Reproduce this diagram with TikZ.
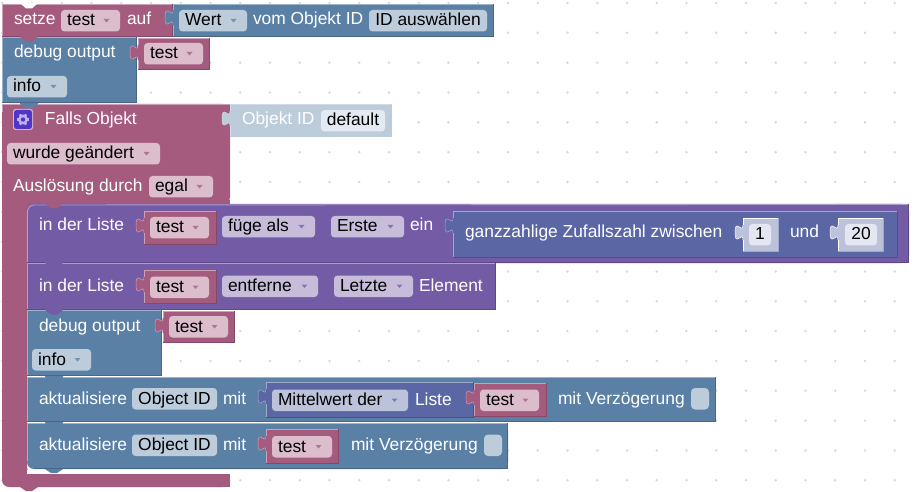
\documentclass[tikz,border=0pt]{standalone}
\usepackage{fontspec}
\setmainfont{Liberation Sans}
\definecolor{mag}{HTML}{A55B7D}\definecolor{magL}{HTML}{C9A0B6}\definecolor{magD}{HTML}{84496A}\definecolor{magF}{HTML}{DBBDCC}\definecolor{magA}{HTML}{A55B7D}
\definecolor{blu}{HTML}{5B80A5}\definecolor{bluL}{HTML}{9DB3C9}\definecolor{bluD}{HTML}{496684}\definecolor{bluF}{HTML}{BDCCDB}\definecolor{bluA}{HTML}{5B80A5}
\definecolor{pur}{HTML}{745BA5}\definecolor{purL}{HTML}{ACA0C9}\definecolor{purD}{HTML}{5D4984}\definecolor{purF}{HTML}{C7BDDB}\definecolor{purA}{HTML}{745BA5}
\definecolor{mat}{HTML}{5B67A5}\definecolor{matL}{HTML}{A0A8C9}\definecolor{matD}{HTML}{495284}\definecolor{matF}{HTML}{BDC2DB}\definecolor{matA}{HTML}{5B67A5}
\definecolor{sha}{HTML}{BDCCDB}\definecolor{shaL}{HTML}{CFDBE6}\definecolor{shaD}{HTML}{BDCCDB}\definecolor{shaF}{HTML}{E3EAF1}
\definecolor{numb}{HTML}{BDC2DB}\definecolor{numbL}{HTML}{FFFFFF}\definecolor{numbD}{HTML}{A0A8C9}\definecolor{numbF}{HTML}{E4E6F1}
\definecolor{gearbg}{HTML}{5035C8}\definecolor{gearfg}{HTML}{BFB0EE}
\newcommand{\blk}[5]{%
  \fill[#5] (#1,#2) rectangle (#3,#4);
  \draw[#5L,line width=.9pt] (#1+.4,#4) -- (#1+.4,#2+.4) -- (#3,#2+.4);
  \draw[#5D,line width=.9pt] (#3-.4,#2) -- (#3-.4,#4-.4) -- (#1,#4-.4);}
\newcommand{\puz}[3]{%
  \begin{scope}[shift={(#1,#2+5)}]
  \filldraw[fill=#3,draw=#3L,line width=.5pt] (.8,0) -- (0,0) .. controls (0,10) and (-8,-8) .. (-8,7.5) .. controls (-8,23) and (0,5) .. (0,15) -- (.8,15);
  \fill[#3] (0,.3) rectangle (1.2,14.7);
  \end{scope}}
\newcommand{\ntch}[3]{%
  \fill[#3] (#1+18,#2-1) -- (#1+18,#2) -- (#1+24,#2+4.5) -- (#1+30,#2+4.5) -- (#1+36,#2) -- (#1+36,#2-1) -- cycle;}
\newcommand{\lab}[4]{\node[lbl] (#1) at (#2,#3) {#4};}
\newcommand{\fld}[7]{%
  \fill[#6F,rounded corners=3.5pt] (#2,#4) rectangle (#3,#4+21.5);
  \node[lbl,text=black] (#1) at (#2+6,#4+16) {#5};
  \fill[#6A!85!white] (#3-16.5,#4+9) -- (#3-10.5,#4+9) -- (#3-13.5,#4+12.5) -- cycle;}
\newcommand{\fldn}[6]{%
  \fill[#6F,rounded corners=3.5pt] (#2,#4) rectangle (#3,#4+21.5);
  \node[lbl,text=black] (#1) at ({(#2+#3)/2},#4+16) [anchor=base] {#5};}
\begin{document}
\begin{tikzpicture}[x=1pt,y=-1pt,
  lbl/.style={anchor=base west,inner sep=0pt,outer sep=0pt,text=white,font=\fontsize{17.4}{19}\selectfont}]
\useasboundingbox (0,0) rectangle (914,492);
\fill[white] (0,0) rectangle (914,492);
\foreach \i in {0,...,30}{\foreach \j in {0,...,16}{
  \fill[black!15] ({2.2+\i*29.75},{3+\j*29.83}) circle (1.4pt);}}
% Top block
\blk{2}{4}{173}{37}{mag}
\fill[white] (20,3) -- (26,8.5) -- (32,8.5) -- (38,3) -- cycle;
\blk{173}{4}{494}{37}{blu}
\puz{173}{5}{blu}
\lab{a1}{14}{25}{setze}
\fld{a2}{61}{120}{10}{test}{mag}{}
\lab{a3}{127}{25}{auf}
\fld{a4}{179}{247}{10}{Wert}{blu}{}
\lab{a5}{253}{25}{vom Objekt ID}
\fldn{a6}{369}{487}{10}{ID auswählen}{blu}
% debug 1
\blk{2}{37}{137}{103}{blu}
\blk{138}{38}{210}{70}{mag}
\puz{138}{40}{mag}
\lab{b1}{14}{58}{debug output}
\fld{b2}{144}{203}{43}{test}{mag}{}
\fld{b3}{7}{67}{76}{info}{blu}{}
\ntch{2}{37}{mag}
% Falls
\fill[mag,rounded corners=7pt] (2,104) -- (230,104) -- (230,204) -- (27,204) -- (27,474) -- (230,474) -- (230,487) -- (2,487) -- cycle;
\fill[mag] (2,104) rectangle (230,140);
\fill[mag] (26,200) rectangle (230,204);\fill[mag] (26,200) rectangle (36,212);
\fill[mag] (24,470) rectangle (40,487);\fill[mag] (200,474) rectangle (230,487);
\fill[white] (27,470) rectangle (40,474);
\draw[magL,line width=.9pt] (2.4,112) -- (2.4,104.4) -- (230,104.4);
\fill[mag] (20,487) -- (26,491) -- (32,491) -- (38,487) -- cycle;
\blk{230}{104}{392}{137}{sha}
\puz{230}{106}{sha}
\ntch{2}{104}{blu}
% gear
\fill[white!55!mag,rounded corners=2.5pt] (13,109) rectangle (33,130);
\fill[gearbg,rounded corners=2.5pt] (14,110) rectangle (32,129);
\begin{scope}[shift={(23,119.5)}]
  \foreach \a in {0,60,...,300}{\draw[gearfg,line width=2.4pt] (\a:3.5) -- (\a:6);}
  \fill[gearfg] (0,0) circle (5pt);
  \fill[gearbg] (0,0) circle (2.2pt);
\end{scope}
\lab{c1}{45}{125}{Falls Objekt}
\lab{c2}{242}{125}{Objekt ID}
\fldn{c3}{321}{385}{110}{default}{sha}
\fld{c4}{7}{160}{143}{wurde geändert}{mag}{}
\lab{c5}{13}{192}{Auslösung durch}
\fld{c6}{149}{213}{176}{egal}{mag}{}
% Liste 1
\fill[pur,rounded corners=7pt] (27,263) -- (27,204) -- (909,204) -- (909,263) -- cycle;
\fill[pur] (27,255) rectangle (909,263);\fill[pur] (900,204) rectangle (909,263);
\draw[purL,line width=.9pt] (27.4,263) -- (27.4,212) arc[start angle=180,end angle=90,radius=7pt] -- (909,204.4);
\draw[purD,line width=.9pt] (908.6,204) -- (908.6,262.6) -- (27,262.6);
\fill[mag] (45,203.5) -- (51,208.5) -- (57,208.5) -- (63,203.5) -- cycle;
\lab{d1}{39}{231}{in der Liste}
\blk{144}{211}{217}{245}{mag}
\puz{144}{213}{mag}
\fld{d2}{150}{209}{217}{test}{mag}{}
\fld{d3}{222}{315}{216}{füge als}{pur}{}
\fld{d4}{331}{404}{216}{Erste}{pur}{}
\lab{d5}{410}{231}{ein}
\blk{453}{211}{898}{258}{mat}
\puz{453}{213}{mat}
\lab{d6}{465}{238}{ganzzahlige Zufallszahl zwischen}
\blk{743}{218}{779}{252}{numb}
\puz{743}{220}{numb}
\fldn{d7}{749}{771}{224}{1}{numb}
\lab{d8}{790}{238}{und}
\blk{838}{218}{884}{252}{numb}
\puz{838}{220}{numb}
\fldn{d9}{845}{877}{224}{20}{numb}
% Liste 2
\blk{27}{263}{496}{310}{pur}
\ntch{27}{263}{pur}
\lab{e1}{39}{291}{in der Liste}
\blk{144}{270}{217}{304}{mag}
\puz{144}{272}{mag}
\fld{e2}{150}{209}{276.5}{test}{mag}{}
\fld{e3}{222}{318}{275.5}{entferne}{pur}{}
\fld{e4}{334}{413}{275.5}{Letzte}{pur}{}
\lab{e5}{419}{291}{Element}
% debug 2
\blk{27}{310}{162}{376}{blu}
\ntch{27}{310}{pur}
\blk{163}{311}{235}{343}{mag}
\puz{163}{313}{mag}
\lab{f1}{39}{331}{debug output}
\fld{f2}{169}{228}{316}{test}{mag}{}
\fld{f3}{32}{91}{349}{info}{blu}{}
% aktualisiere 1
\blk{27}{377}{716}{422}{blu}
\ntch{27}{377}{blu}
\lab{g1}{39}{404}{aktualisiere}
\fldn{g2}{132}{217}{388}{Object ID}{blu}
\lab{g3}{223}{404}{mit}
\blk{266}{382}{474}{418}{mat}
\puz{266}{384}{mat}
\fld{g4}{272}{408}{389.5}{Mittelwert der}{mat}{}
\lab{g5}{415}{405}{Liste}
\blk{474}{383}{547}{417}{mag}
\puz{474}{385}{mag}
\fld{g6}{480}{539}{389.5}{test}{mag}{}
\lab{g7}{558}{404}{mit Verzögerung}
\fill[bluF,rounded corners=4pt] (691,388) rectangle (709,409.5);
% aktualisiere 2
\fill[blu,rounded corners=7pt] (27,423) -- (508,423) -- (508,469) -- (27,469) -- cycle;
\fill[blu] (27,423) rectangle (508,440);\fill[blu] (490,423) rectangle (508,469);
\draw[bluL,line width=.9pt] (27.4,461) -- (27.4,423.4) -- (508,423.4);
\draw[bluD,line width=.9pt] (507.6,423) -- (507.6,468.6) -- (35,468.6);
\ntch{27}{423}{blu}
\fill[blu] (45,469) -- (51,473) -- (57,473) -- (63,469) -- cycle;
\lab{h1}{39}{450}{aktualisiere}
\fldn{h2}{132}{217}{434.5}{Object ID}{blu}
\lab{h3}{223}{450}{mit}
\blk{266}{429}{339}{464}{mag}
\puz{266}{431}{mag}
\fld{h4}{272}{332}{436}{test}{mag}{}
\lab{h5}{351}{450}{mit Verzögerung}
\fill[bluF,rounded corners=4pt] (484,434.5) rectangle (502,456);
\end{tikzpicture}
\end{document}
